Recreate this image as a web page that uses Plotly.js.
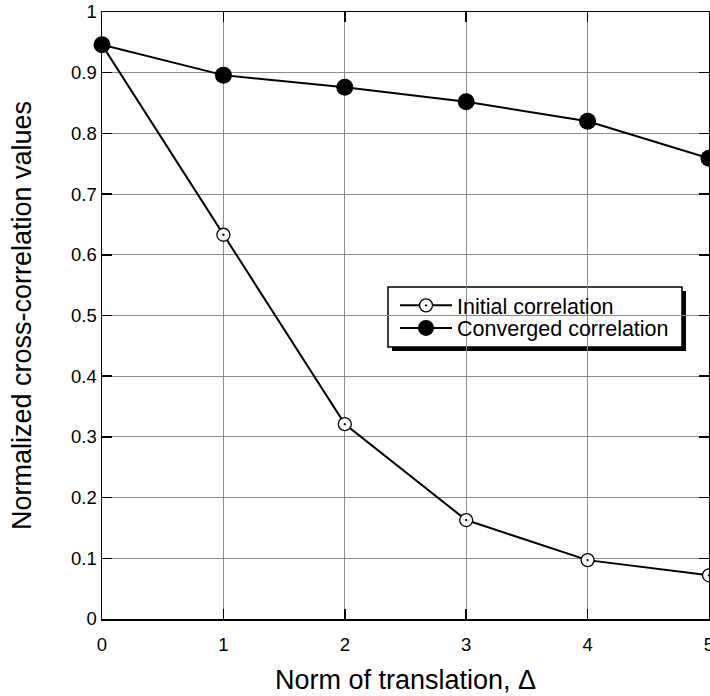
<!DOCTYPE html>
<html>
<head>
<meta charset="utf-8">
<script src="https://cdn.plot.ly/plotly-3.0.1.min.js"></script>
<style>html,body{margin:0;padding:0;overflow:hidden;background:#fff;}</style>
</head>
<body>
<div id="chart" style="width:720px;height:696px;"></div>
<script>
const translation = [0, 1, 2, 3, 4, 5];
const initialCorrelation = [0.946, 0.633, 0.321, 0.163, 0.097, 0.072];
const convergedCorrelation = [0.946, 0.896, 0.876, 0.852, 0.820, 0.759];
const xTicks = [0, 1, 2, 3, 4, 5];
const yTicks = [0, 0.1, 0.2, 0.3, 0.4, 0.5, 0.6, 0.7, 0.8, 0.9, 1];
const yTickText = ['0', '0.1', '0.2', '0.3', '0.4', '0.5', '0.6', '0.7', '0.8', '0.9', '1'];

const font = 'Liberation Sans';
const legendFont = {family: font, size: 21.5, color: '#000'};

const traces = [
  {
    x: translation, y: initialCorrelation, name: 'Initial correlation',
    mode: 'lines+markers', cliponaxis: false, legend: 'legend',
    line: {color: '#000', width: 2},
    marker: {symbol: 'circle-dot', size: 13, color: '#fff', line: {color: '#000', width: 1.3}}
  },
  {
    x: translation, y: convergedCorrelation, name: 'Converged correlation',
    mode: 'lines+markers', cliponaxis: false, legend: 'legend2',
    line: {color: '#000', width: 2},
    marker: {symbol: 'circle', size: 17, color: '#000'}
  }
];

const layout = {
  width: 720, height: 696,
  margin: {l: 102, r: 11, t: 12, b: 77},
  paper_bgcolor: '#fff', plot_bgcolor: '#fff',
  font: {family: font, color: '#000', size: 18},
  showlegend: true,
  legend: {
    x: 0.4827, y: 0.5505, xanchor: 'left', yanchor: 'top',
    bgcolor: 'rgba(0,0,0,0)', borderwidth: 0, itemwidth: 52,
    font: legendFont
  },
  legend2: {
    x: 0.4827, y: 0.5132, xanchor: 'left', yanchor: 'top',
    bgcolor: 'rgba(0,0,0,0)', borderwidth: 0, itemwidth: 52,
    font: legendFont
  },
  xaxis: {
    range: [0, 5], tickmode: 'array', tickvals: xTicks, ticktext: xTicks.map(String),
    showgrid: true, gridcolor: '#8c8c8c', gridwidth: 1,
    showline: true, linecolor: '#000', linewidth: 1.5, mirror: 'ticks',
    ticks: 'inside', ticklen: 10, tickcolor: '#000', tickwidth: 1.5,
    ticklabelstandoff: 8,
    zeroline: false, tickfont: {family: font, size: 18.5, color: '#000'},
    title: {text: 'Norm of translation, Δ', font: {family: font, size: 27, color: '#000'}, standoff: 16}
  },
  yaxis: {
    range: [0, 1], tickmode: 'array', tickvals: yTicks, ticktext: yTickText,
    showgrid: true, gridcolor: '#8c8c8c', gridwidth: 1,
    showline: true, linecolor: '#000', linewidth: 1.5, mirror: 'ticks',
    ticks: 'inside', ticklen: 10, tickcolor: '#000', tickwidth: 1.5,
    zeroline: false, tickfont: {family: font, size: 18.5, color: '#000'},
    title: {text: 'Normalized cross-correlation values', font: {family: font, size: 27, color: '#000'}, standoff: 31}
  },
  shapes: [
    {type: 'rect', xref: 'paper', yref: 'paper', layer: 'between',
     x0: 0.4778, x1: 0.9621, y0: 0.4415, y1: 0.5404,
     fillcolor: '#000', line: {width: 0}},
    {type: 'rect', xref: 'paper', yref: 'paper', layer: 'between',
     x0: 0.4712, x1: 0.9555, y0: 0.4481, y1: 0.5470,
     fillcolor: '#fff', line: {color: '#000', width: 1.5}}
  ]
};

Plotly.newPlot('chart', traces, layout, {displayModeBar: false, staticPlot: true});
</script>
</body>
</html>
